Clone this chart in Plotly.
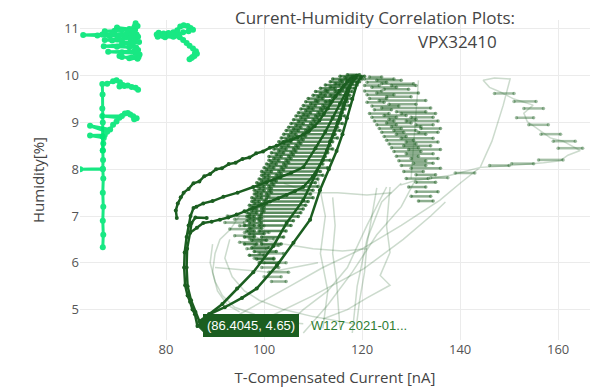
import plotly.graph_objects as go

DARK = "#1b5e20"
LIGHT = "#00e676"

# ---------------- light green (early) traces ----------------
LGA_X = [67.5, 69.5, 71.0, 72.5, 73.6, 73.8, 74.2, 73.7, 70.0, 73.5, 72.0, 69.0, 67.0, 63.1, 66.0, 68.5, 70.5, 72.5, 74.0, 74.3, 72.7, 70.0, 67.5, 69.0, 71.0, 72.8, 73.8, 74.5, 73.2, 71.0, 67.3, 70.0, 72.5, 73.9, 74.3, 73.5, 68.2, 71.0, 73.8, 74.6, 74.4, 73.0, 71.0, 70.5, 72.5, 74.2]
LGA_Y = [10.95, 10.96, 10.97, 11.0, 11.05, 11.12, 11.06, 10.98, 11.03, 10.94, 10.9, 10.89, 10.88, 10.87, 10.86, 10.85, 10.86, 10.85, 10.88, 10.83, 10.8, 10.78, 10.76, 10.75, 10.74, 10.72, 10.75, 10.72, 10.68, 10.66, 10.63, 10.62, 10.61, 10.6, 10.55, 10.52, 10.51, 10.5, 10.48, 10.45, 10.4, 10.39, 10.4, 10.42, 10.37, 10.36]

LGB_X = [78.1, 78.5, 79.5, 80.5, 81.5, 82.3, 82.9, 83.6, 84.4, 85.0, 85.5, 84.6, 83.5, 82.5, 81.0, 79.5, 78.3, 79.8, 81.5, 82.8, 83.5, 84.2, 84.8, 85.5, 86.1, 86.3, 85.8, 85.2, 84.8, 85.4, 85.9]
LGB_Y = [10.88, 10.92, 10.9, 10.91, 10.93, 10.97, 11.05, 11.08, 11.06, 11.02, 10.98, 10.95, 10.93, 10.88, 10.86, 10.84, 10.83, 10.82, 10.83, 10.82, 10.76, 10.7, 10.64, 10.58, 10.52, 10.47, 10.42, 10.38, 10.35, 10.4, 10.48]

LGC_X = [67.1, 67.2, 67.1, 67.2, 67.1, 67.2, 67.1, 62.5, 67.1, 67.15, 67.1, 67.05, 67.1, 67.0, 67.05, 67.0, 68.0, 69.2, 69.9, 70.6, 71.2, 70.5, 71.5, 72.2, 73.0, 73.8, 74.3]
LGC_Y = [6.33, 6.6, 6.9, 7.2, 7.5, 7.8, 8.0, 8.0, 8.01, 8.2, 8.4, 8.7, 9.0, 9.3, 9.6, 9.82, 9.83, 9.88, 9.9, 9.86, 9.8, 9.77, 9.78, 9.79, 9.76, 9.74, 9.7]

LGD_X = [67.1, 67.2, 67.3, 64.5, 67.5, 68.0, 64.5, 68.6, 69.2, 69.9, 70.5, 67.0, 71.0, 71.6, 72.2, 72.7, 73.3, 74.0, 73.5]
LGD_Y = [8.4, 8.55, 8.67, 8.72, 8.73, 8.8, 8.93, 8.85, 8.95, 9.02, 9.1, 9.14, 9.14, 9.19, 9.2, 9.17, 9.13, 9.09, 9.07]

# ---------------- dark green main traces ----------------
D1_X = [82.2, 82.0, 82.4, 83.0, 83.6, 84.6, 85.6, 86.8, 87.8, 89.0, 90.2, 91.4, 92.8, 94.2, 95.6, 97.0, 98.4, 99.8, 101.2, 102.6, 104.0, 105.4, 106.8, 108.0, 109.2, 110.3, 111.3, 112.2, 113.0, 113.8, 114.6, 115.4, 116.2, 117.0, 117.6, 118.3, 118.9]
D1_Y = [6.96, 7.12, 7.27, 7.40, 7.50, 7.58, 7.70, 7.74, 7.85, 7.90, 8.00, 8.02, 8.11, 8.14, 8.22, 8.25, 8.34, 8.38, 8.46, 8.50, 8.58, 8.62, 8.68, 8.74, 8.82, 8.92, 9.04, 9.18, 9.30, 9.44, 9.56, 9.68, 9.78, 9.88, 9.93, 9.98, 10.0]

D2_X = [118.5, 117.0, 115.5, 114.0, 112.5, 110.5, 108.0, 105.5, 103.3, 100.5, 97.8, 94.6, 91.7, 89.5, 87.6, 86.2, 85.6, 85.0, 84.6, 84.2, 83.8, 83.7, 83.9, 84.4, 84.9, 85.4, 85.9, 86.4045, 87.5, 88.8, 91.5, 94.5, 97.8, 101.9, 104.6, 108.0, 110.5, 112.8, 114.2, 115.5, 116.8, 117.8]
D2_Y = [9.95, 9.7, 9.4, 9.1, 8.8, 8.45, 8.04, 7.92, 7.83, 7.72, 7.62, 7.5, 7.41, 7.32, 7.27, 7.2, 7.17, 7.0, 6.8, 6.55, 6.22, 5.9, 5.52, 5.3, 5.17, 5.0, 4.9, 4.65, 4.75, 4.9, 5.12, 5.45, 5.8, 6.36, 6.85, 7.34, 7.9, 8.39, 8.75, 9.09, 9.5, 9.85]

D3_X = [88.3, 86.0, 85.2, 84.9, 86.3, 87.6, 89.3, 91.0, 92.7, 94.4, 96.0, 97.8, 99.5, 101.2, 102.9, 104.6, 106.3, 108.0, 110.0, 112.0, 113.5, 115.0, 116.3, 117.4, 118.5]
D3_Y = [6.96, 6.97, 6.85, 6.64, 6.75, 6.85, 6.88, 6.92, 6.97, 7.03, 7.1, 7.17, 7.24, 7.31, 7.38, 7.45, 7.53, 7.62, 7.85, 8.2, 8.6, 9.0, 9.4, 9.75, 9.95]

D4_X = [84.9, 84.3, 84.2, 84.4, 85.1, 86.0, 86.8, 88.8, 92.0, 95.5, 98.5, 102.6, 106.0, 109.4, 111.4, 113.2, 114.8, 116.0, 116.9, 118.0, 119.0, 119.8]
D4_Y = [6.64, 6.3, 5.9, 5.5, 5.2, 4.95, 4.75, 4.9, 5.05, 5.25, 5.45, 5.94, 6.43, 6.92, 7.55, 8.0, 8.39, 8.75, 9.09, 9.5, 9.85, 9.97]

# ---------------- jittery clouds: horizontal dashes (humidity, current from, current to) ----------------
C1_DASHES = [
    (10.02, 117, 119.5), (9.99, 115.5, 118), (9.99, 118.5, 120.5), (9.96, 116.5, 119),
    (9.93, 114, 117), (9.93, 118, 120), (9.9, 115.5, 118.5), (9.87, 113.5, 116), (9.87, 117, 119.5),
    (9.83, 114.5, 118), (9.8, 112.5, 115.5), (9.8, 116.5, 119), (9.76, 113.5, 117.5),
    (9.73, 111.5, 114.5), (9.73, 116, 118.5), (9.69, 112.5, 116), (9.66, 110.5, 113), (9.66, 114.5, 118),
    (9.62, 111.5, 115.5), (9.58, 110, 112.5), (9.58, 113.5, 117.5), (9.55, 111, 114.5),
    (9.51, 109, 112), (9.51, 114, 118), (9.47, 110.5, 113.5), (9.44, 108.5, 111), (9.44, 112.5, 117),
    (9.4, 109.5, 113.5), (9.36, 108, 110.5), (9.36, 112, 117.5), (9.32, 109, 112.5),
    (9.29, 107.5, 110), (9.29, 111.5, 116.5), (9.25, 108.5, 112), (9.21, 107, 109.5), (9.21, 111, 116),
    (9.17, 108, 111.5), (9.14, 106.5, 109), (9.14, 110.5, 116.5), (9.1, 107.5, 111),
    (9.06, 106, 108.5), (9.06, 110, 115.5), (9.02, 107, 110.5), (8.98, 105.5, 108), (8.98, 109.5, 116),
    (8.94, 106.5, 110), (8.9, 105, 107.5), (8.9, 109, 115), (8.86, 106, 109.5),
    (8.83, 104.5, 107), (8.83, 108.5, 115.5), (8.79, 105.5, 109), (8.75, 104, 106.5), (8.75, 108, 114.5),
    (8.71, 105, 108.5), (8.67, 103.5, 106), (8.67, 107.5, 115), (8.63, 104.5, 108),
    (8.59, 103, 105.5), (8.59, 107, 114), (8.55, 104, 107.5), (8.51, 102.5, 105), (8.51, 106.5, 113.5),
    (8.47, 103.5, 107), (8.43, 102, 104.5), (8.43, 106, 114), (8.39, 103, 106.5),
    (8.35, 101.5, 104), (8.35, 105.5, 113), (8.31, 102.5, 106), (8.27, 101, 103.5), (8.27, 105, 112.5),
    (8.23, 102, 105.5), (8.19, 101, 103), (8.19, 104.5, 113.5), (8.15, 101.5, 105),
    (8.11, 100.5, 102.5), (8.11, 104, 112), (8.07, 101, 104.5), (8.03, 100, 102), (8.03, 103.5, 113),
    (7.99, 100.5, 104), (7.95, 99.5, 101.5), (7.95, 103, 111.5), (7.91, 100, 103.5),
    (7.87, 99.5, 101), (7.87, 102.5, 112), (7.83, 100, 103), (7.79, 99, 101), (7.79, 102, 111),
    (7.75, 99.5, 102.5), (7.71, 98.5, 100.5), (7.71, 101.5, 110.5), (7.67, 99, 102),
    (7.63, 98.5, 100), (7.63, 101, 111), (7.59, 99, 101.5), (7.55, 98, 100), (7.55, 101, 110),
    (7.51, 98.5, 101.5), (7.47, 98, 99.5), (7.47, 100.5, 109.5), (7.43, 98.5, 101),
    (7.39, 97.5, 99.5), (7.39, 100.5, 110), (7.35, 98, 100.5), (7.31, 97.5, 99), (7.31, 100, 109),
    (7.27, 98, 100.5), (7.23, 97, 99), (7.23, 100, 108.5), (7.19, 97.5, 100),
    (7.15, 97, 98.5), (7.15, 99.5, 108), (7.11, 97.5, 100), (7.07, 96.5, 98.5), (7.07, 99.5, 107.5),
    (7.03, 97, 99.5), (6.99, 96.5, 98), (6.99, 99, 107), (6.95, 97, 99.5),
    (6.9, 96.5, 98), (6.9, 99, 106), (6.85, 97, 99.5), (6.8, 96, 98), (6.8, 99, 105.5),
    (6.74, 97, 99.5), (6.68, 96.5, 98), (6.68, 99, 104.5), (6.62, 97, 100),
    (6.55, 96, 98), (6.55, 99.5, 104), (6.48, 97.5, 100.5), (6.4, 96, 98.5), (6.4, 99.5, 103.5),
    (6.32, 97.5, 101), (6.24, 98, 102.5), (6.16, 97, 100), (6.08, 98.5, 102), (6.0, 99, 103),
]

C2_DASHES = [
    (9.97, 121.5, 124), (9.93, 120.5, 126.5), (9.9, 123, 128), (9.86, 121, 125), (9.83, 124, 130.5),
    (9.79, 120.5, 123.5), (9.79, 126, 131), (9.75, 122, 127), (9.71, 124.5, 129.5), (9.67, 120.5, 124),
    (9.63, 123, 131.5), (9.59, 121, 126.5), (9.55, 125, 130), (9.51, 121.5, 125), (9.47, 123.5, 133),
    (9.43, 121, 124.5), (9.39, 125.5, 131), (9.35, 122, 127.5), (9.31, 124, 134), (9.27, 122.5, 126),
    (9.23, 127, 133), (9.19, 121.5, 125.5), (9.19, 128, 135), (9.15, 124.5, 129), (9.11, 122, 127),
    (9.11, 130, 134.5), (9.07, 125.5, 131), (9.03, 122.5, 126.5), (9.03, 129, 135.5), (8.99, 125, 130),
    (8.95, 123, 127), (8.95, 131, 134.5), (8.91, 126, 132), (8.87, 123.5, 128), (8.87, 132, 136),
    (8.83, 126.5, 131), (8.79, 124, 128.5), (8.79, 131.5, 135.5), (8.75, 127, 133), (8.7, 124.5, 129),
    (8.66, 128, 134.5), (8.62, 125, 130.5), (8.58, 129, 135.5), (8.54, 125.5, 131), (8.5, 128.5, 134),
    (8.46, 126, 131.5), (8.42, 129.5, 136), (8.38, 126.5, 132), (8.33, 129, 134.5), (8.28, 127, 131.5),
    (8.23, 130, 135.5), (8.18, 127.5, 133), (8.13, 130.5, 134.5), (8.08, 128, 133), (8.02, 130, 136),
    (7.95, 128.5, 132.5), (7.88, 131, 135), (7.8, 129, 133.5), (7.72, 131, 135), (7.62, 129.5, 133),
    (7.52, 131, 135.5), (7.42, 130, 134), (7.32, 131.5, 134.5),
]

C3_DASHES = [
    (7.0, 92.5, 97), (6.93, 94, 99), (6.86, 92, 96), (6.79, 95, 100), (6.72, 93, 97.5), (6.65, 96, 101),
    (6.58, 94, 98), (6.51, 97, 102), (6.44, 95, 99.5), (6.37, 98, 103), (6.3, 96.5, 100.5), (6.2, 99, 104),
    (6.1, 98, 102), (6.0, 100, 104.5), (5.9, 99.5, 103), (5.8, 101, 105), (5.7, 100, 103.5), (5.6, 101.5, 104.5),
]

C4_DASHES = [
    (9.62, 147, 151), (9.45, 151, 155.5), (9.3, 153, 157), (9.1, 151.5, 155), (8.95, 154, 158),
    (8.75, 156.5, 160.5), (8.6, 159, 163.5), (8.45, 160, 165), (8.2, 156, 161), (8.12, 150.5, 155),
    (8.08, 146, 150), (7.92, 139, 143), (7.82, 134, 137.5),
]

# ---------------- faint lines ----------------
FAINT = [
    ([95.0, 100.0, 105.3, 112.0, 120.0, 128.0, 135.9, 140.0, 144.1, 146.5, 148.8, 150.2, 147.0, 144.7, 146.0, 148.2, 151.0, 154.9, 153.0, 153.7, 156.0, 158.4, 161.0, 164.5, 162.0, 160.4, 157.0, 153.7, 149.0, 144.1, 141.0, 138.0, 134.0, 131.2, 127.8],
     [4.9, 5.2, 5.5, 5.9, 6.3, 6.8, 7.34, 7.7, 8.04, 8.6, 9.37, 9.93, 9.95, 9.9, 9.75, 9.65, 9.5, 9.37, 9.2, 9.02, 8.85, 8.67, 8.6, 8.4, 8.3, 8.18, 8.14, 8.11, 8.07, 8.04, 7.95, 7.87, 7.8, 7.77, 7.66]),
    ([89.5, 89.0, 90.0, 91.5, 94.0, 98.0, 102.0, 108.0], [6.4, 6.0, 5.6, 5.3, 5.05, 4.9, 4.75, 4.7]),
    ([93.0, 92.0, 93.5, 96.0, 99.0, 104.0, 110.0, 118.0], [6.5, 6.1, 5.7, 5.4, 5.2, 5.0, 4.85, 4.7]),
    ([114.0, 114.5, 114.0, 114.8, 115.2, 115.5], [7.4, 6.8, 6.2, 5.6, 5.0, 4.6]),
    ([123.0, 122.0, 121.0, 120.5, 119.5, 118.9], [7.6, 7.0, 6.4, 5.8, 5.2, 4.7]),
    ([125.7, 125.0, 125.7, 123.7, 125.7, 121.0, 117.0, 112.0], [7.62, 6.78, 6.22, 5.73, 5.52, 5.25, 5.0, 4.8]),
    ([99.2, 110.0, 120.3, 128.4, 134.0, 137.0], [4.75, 5.3, 5.87, 6.5, 7.0, 7.3]),
    ([108.0, 113.0, 118.0, 123.0, 128.0, 131.0], [4.5, 5.1, 5.8, 6.6, 7.2, 7.8]),
    ([97.0, 99.0, 104.0, 110.0, 116.0, 121.0], [6.7, 6.5, 6.4, 6.3, 6.25, 6.3]),
    ([104.0, 109.0, 115.0, 121.0, 126.0], [7.7, 7.5, 7.5, 7.45, 7.5]),
    ([131.5, 131.0, 130.5, 130.0], [9.9, 9.2, 8.5, 7.8]),
    ([95.0, 93.0, 91.0, 90.0, 89.5, 90.5, 92.5, 95.0], [7.0, 6.7, 6.5, 6.2, 5.8, 5.4, 5.1, 4.95]),
    ([118.0, 119.0, 121.0, 124.0, 128.0], [4.5, 5.5, 6.5, 7.3, 7.7]),
    ([103.0, 108.0, 113.0, 117.0, 121.0, 125.0], [4.5, 5.0, 5.4, 5.9, 6.8, 7.62]),
    ([90.0, 96.0, 101.0, 106.0, 111.0], [5.9, 5.85, 5.8, 5.9, 6.0]),
    ([111.0, 112.5, 111.5, 113.0, 112.0], [7.8, 7.0, 6.2, 5.4, 4.6]),
]

HOVER_X = 86.4045
HOVER_Y = 4.65
HOVER_TEXT = "(86.4045, 4.65)"
HOVER_NAME = "W127 2021-01..."

TITLE_1 = "Current-Humidity Correlation Plots:"
TITLE_2 = "VPX32410"
X_TITLE = "T-Compensated Current [nA]"
Y_TITLE = "Humidity[%]"
X_TICKS = [80, 100, 120, 140, 160]
Y_TICKS = [5, 6, 7, 8, 9, 10, 11]


def dash_path(rows):
    xs, yy = [], []
    for y, a, b in rows:
        xs += [a, b, None]
        yy += [y, y, None]
    return xs, yy


def rgba(alpha):
    return "rgba(27,94,32,%s)" % alpha


fig = go.Figure()

for fx, fy in FAINT:
    fig.add_trace(go.Scatter(x=fx, y=fy, mode="lines", line=dict(color=DARK, width=1.5),
                             opacity=0.22, showlegend=False, hoverinfo="skip"))

for rows, a, w in [(C4_DASHES, 0.4, 2.5), (C3_DASHES, 0.45, 2.5), (C2_DASHES, 0.5, 2.5), (C1_DASHES, 0.72, 2.5)]:
    cx, cy = dash_path(rows)
    fig.add_trace(go.Scatter(x=cx, y=cy, mode="lines+markers", line=dict(color=rgba(a), width=w),
                             marker=dict(size=3.5, color=rgba(a)), showlegend=False,
                             hoverinfo="skip", connectgaps=False))

for dx, dy in [(D1_X, D1_Y), (D2_X, D2_Y), (D3_X, D3_Y), (D4_X, D4_Y)]:
    fig.add_trace(go.Scatter(x=dx, y=dy, mode="lines+markers", line=dict(color=DARK, width=2.5),
                             marker=dict(size=4, color=DARK), showlegend=False, hoverinfo="skip"))

for lx, ly in [(LGA_X, LGA_Y), (LGB_X, LGB_Y), (LGC_X, LGC_Y), (LGD_X, LGD_Y)]:
    fig.add_trace(go.Scatter(x=lx, y=ly, mode="lines+markers", line=dict(color=LIGHT, width=3),
                             marker=dict(size=6, color=LIGHT), opacity=0.9, showlegend=False,
                             hoverinfo="skip"))

# hover label mimic
fig.add_shape(type="path", xref="x", yref="y", xsizemode="pixel", ysizemode="pixel",
              xanchor=HOVER_X, yanchor=HOVER_Y, path="M0,0 L7,7 L7,-7 Z",
              fillcolor=DARK, line=dict(color=DARK, width=1))
fig.add_annotation(x=HOVER_X, y=HOVER_Y, xref="x", yref="y", text=HOVER_TEXT, showarrow=False,
                   xanchor="left", yanchor="middle", xshift=6, bgcolor=DARK, bordercolor=DARK,
                   borderpad=3, font=dict(family="Liberation Sans, Arial", size=13, color="white"))
fig.add_annotation(x=HOVER_X, y=HOVER_Y, xref="x", yref="y", text=HOVER_NAME, showarrow=False,
                   xanchor="left", yanchor="middle", xshift=112,
                   font=dict(family="Liberation Sans, Arial", size=13, color="#2e7d32"))

fig.add_annotation(x=(457 - 80) / 510, y=(346 - 42) / 326, xref="paper", yref="paper", text=TITLE_2,
                   showarrow=False, xanchor="center", yanchor="middle",
                   font=dict(family="Open Sans", size=17, color="#444"))

fig.update_layout(
    width=595, height=389,
    margin=dict(l=80, r=5, t=20, b=43),
    paper_bgcolor="white", plot_bgcolor="white",
    title=dict(text=TITLE_1, x=375 / 595, xanchor="center", y=1 - 18 / 389, yanchor="middle",
               font=dict(family="Open Sans", size=17, color="#444")),
    font=dict(family="Open Sans", color="#444"),
    xaxis=dict(range=[62.45, 166.5], tickvals=X_TICKS, showgrid=True, gridcolor="#ebebeb",
               zeroline=False, showline=False, tickfont=dict(size=13, color="#555"),
               title=dict(text=X_TITLE, font=dict(size=15, color="#444"))),
    yaxis=dict(range=[4.35, 11.19], tickvals=Y_TICKS, showgrid=True, gridcolor="#ebebeb",
               zeroline=False, showline=False, tickfont=dict(size=13, color="#555"),
               title=dict(text=Y_TITLE, font=dict(size=15, color="#444"))),
)

fig.write_html("out.html")
